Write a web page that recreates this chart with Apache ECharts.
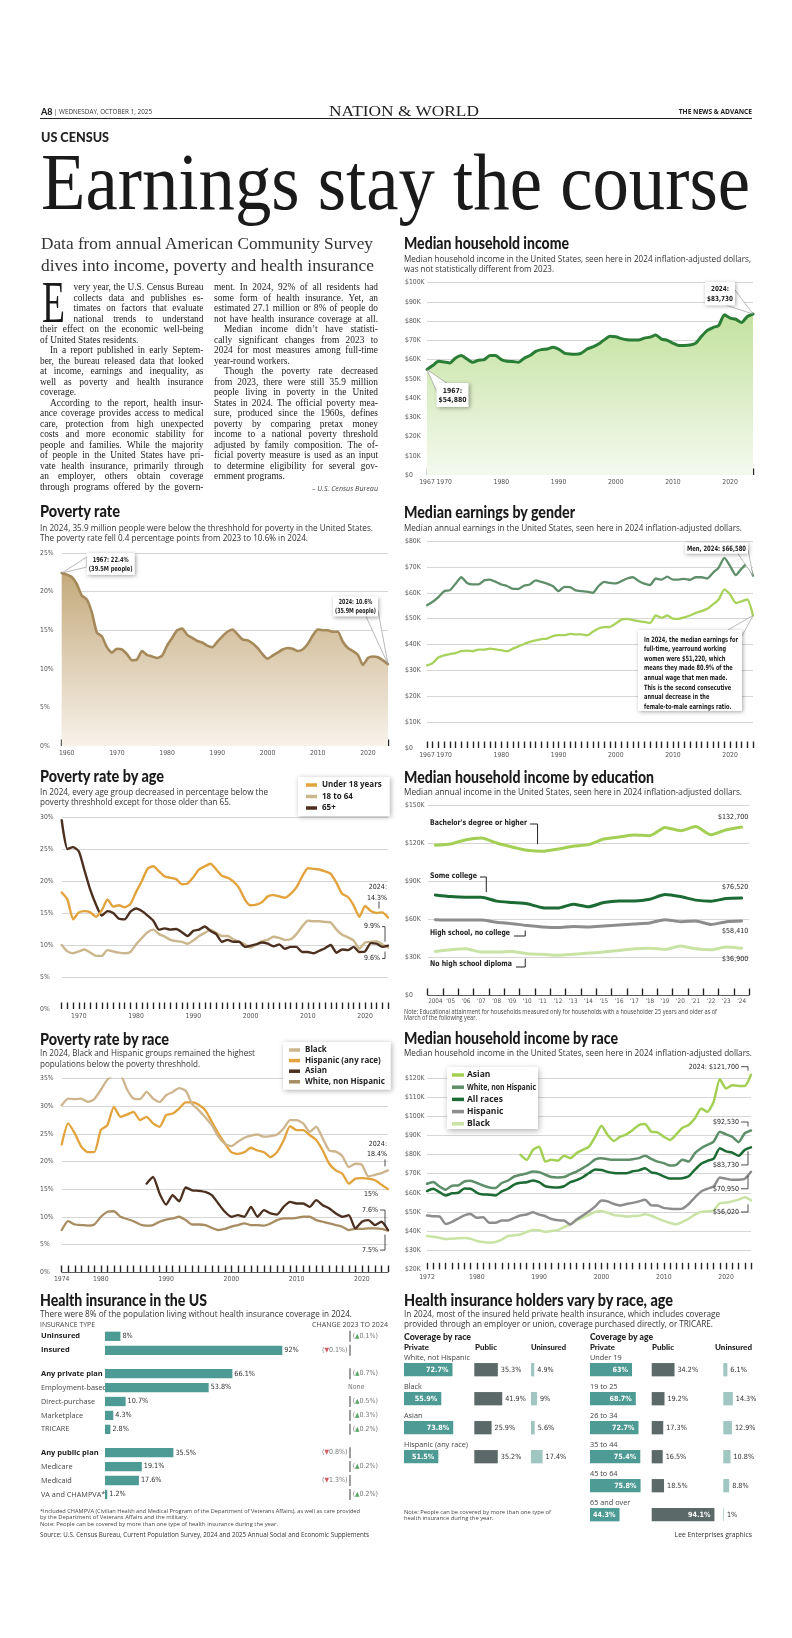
<!DOCTYPE html>
<html><head><meta charset="utf-8">
<script src="https://cdn.jsdelivr.net/npm/echarts@6.0.0/dist/echarts.min.js"></script>
<style>
html,body{margin:0;padding:0;background:#fff;}
#page{position:relative;width:792px;height:1638px;overflow:hidden;background:#fff;}
#chart{position:absolute;left:0;top:0;width:792px;height:1638px;}
#txt{position:absolute;left:0;top:0;width:792px;height:1638px;}
.t{position:absolute;white-space:nowrap;transform-origin:0 50%;color:#222;}
</style></head>
<body><div id="page"><div id="chart"></div><div id="txt"></div></div>
<script>
function range(a,b){const r=[];for(let y=a;y<=b;y++)r.push(y);return r;}

// ================= DATA =================
const incomeYears = range(1967, 2024);
const medianIncome = [54.88,56.9,59.1,58.8,58.3,60.9,62.1,60.3,58.6,59.7,60.0,62.2,62.1,60.0,59.1,59.0,58.6,60.7,62.1,64.3,65.2,65.5,66.4,65.5,63.4,62.9,62.8,63.4,65.5,66.6,68.1,70.3,72.1,71.9,70.9,70.3,70.2,70.2,71.2,71.7,72.8,70.7,70.0,68.6,67.4,67.4,67.6,68.6,72.1,75.2,76.7,77.8,83.3,81.6,81.0,79.3,82.4,83.73];

const povertyYears = range(1959, 2024);
const povertyRate = [22.4,22.2,21.9,21.0,19.5,19.0,17.3,14.7,14.2,12.8,12.1,12.6,12.5,11.9,11.1,11.2,12.3,11.8,11.6,11.4,11.7,13.0,14.0,15.0,15.2,14.4,14.0,13.6,13.4,13.0,12.8,13.5,14.2,14.8,15.1,14.5,13.8,13.7,13.3,12.7,11.9,11.3,11.7,12.1,12.5,12.7,12.6,12.3,12.5,13.2,14.3,15.1,15.0,15.0,14.8,14.8,13.5,12.7,12.3,11.8,10.5,11.4,11.6,11.5,11.1,10.6];

const earningsYears = range(1967, 2024);
const menEarnings = [55.2,56.5,58.3,60.6,61.0,63.5,66.0,63.8,63.2,63.2,64.8,65.1,64.2,63.2,62.6,61.5,61.5,62.8,63.2,64.8,64.2,63.5,62.6,60.6,62.3,62.2,60.9,60.6,60.4,60.0,62.6,64.2,63.8,63.6,64.5,65.5,66.0,64.5,63.5,63.0,65.5,65.1,66.2,65.1,65.1,65.4,65.0,66.0,66.0,65.5,67.7,69.7,73.5,70.3,66.8,69.3,71.2,66.58];
const womenEarnings = [31.9,32.8,35.0,35.8,36.3,36.7,37.4,37.6,37.4,38.0,38.0,38.4,38.1,37.8,37.4,38.4,39.3,40.2,41.0,41.6,42.1,42.3,43.2,43.6,43.6,44.1,43.9,43.9,43.5,44.9,46.2,46.7,46.8,48.1,49.6,49.9,49.4,49.0,48.7,48.3,51.2,50.3,51.2,50.0,49.9,50.5,51.2,52.2,52.9,53.8,55.5,57.4,61.3,59.3,56.1,56.7,57.4,51.22];

const ageYears = range(1967, 2024);
const under18 = [18.2,17.1,14.0,15.1,15.3,15.1,14.4,15.4,17.1,16.0,16.2,15.9,16.4,18.3,20.0,21.9,22.3,21.5,20.7,20.5,20.3,19.5,19.6,20.6,21.8,22.3,22.7,21.8,20.8,20.5,19.9,18.9,17.1,16.2,16.3,16.7,17.6,17.8,17.6,17.4,18.0,19.0,20.7,22.0,21.9,21.8,21.5,21.1,19.7,18.0,17.5,16.2,14.4,16.1,15.3,15.0,15.1,14.3];
const age18to64 = [10.0,9.0,8.7,9.0,9.3,8.8,8.3,8.3,9.2,9.0,8.8,8.7,8.9,10.1,11.1,12.0,12.4,11.7,11.3,10.8,10.6,10.5,10.2,10.7,11.4,11.9,12.4,11.9,11.4,11.4,10.9,10.5,10.1,9.6,10.1,10.6,10.8,11.3,11.1,10.8,10.9,11.7,12.9,13.8,13.7,13.7,13.6,13.5,12.4,11.6,11.2,10.7,9.4,10.4,10.5,10.6,10.1,9.6];
const age65plus = [29.5,25.0,25.3,24.6,21.6,18.6,16.3,14.6,15.3,15.0,14.1,14.0,15.2,15.7,15.3,14.6,13.8,12.4,12.6,12.4,12.5,12.0,11.4,12.2,12.4,12.9,12.2,11.7,10.5,10.8,10.5,10.5,9.7,9.9,10.1,10.4,10.2,9.8,10.1,9.4,9.7,9.7,8.9,8.9,8.7,9.1,9.5,10.0,8.8,9.3,9.2,9.7,8.9,9.0,10.3,10.2,9.7,9.9];

const eduYears = range(2004, 2024);
const eduLabels = eduYears.map((y,i)=> i===0 ? String(y) : "'" + String(y).slice(2));
const bachelors = [118.2,119.2,122.6,123.9,120.0,116.9,114.3,113.5,115.3,117.4,118.7,123.1,124.7,126.3,125.8,132.3,129.7,133.0,126.5,130.4,132.7];
const someCollege = [79.0,77.7,77.2,77.2,74.1,73.0,72.0,68.9,68.6,71.7,69.6,73.0,74.3,74.3,75.6,79.3,77.7,74.9,74.1,76.2,76.52];
const highSchool = [59.5,59.2,59.2,59.2,57.4,56.3,54.8,53.7,53.2,54.0,53.7,54.5,55.3,56.1,56.9,59.5,57.9,58.4,55.6,57.9,58.41];
const noDiploma = [34.4,35.7,36.5,33.9,33.9,34.4,32.6,32.1,31.3,32.1,33.1,33.9,35.2,36.5,37.0,36.0,38.6,36.5,35.7,37.8,36.9];

const racePovYears = range(1974, 2024);
const blackPov = [30.2,31.4,31.3,31.4,30.8,31.3,33.0,34.8,35.6,35.6,33.1,31.4,31.3,32.6,31.4,30.8,32.0,32.6,33.3,32.8,30.4,29.3,28.0,26.6,24.5,23.2,22.8,23.6,24.3,24.7,24.9,24.5,24.6,24.9,26.0,27.5,27.5,26.9,25.4,26.3,24.2,22.0,21.8,21.0,19.0,19.6,19.4,17.3,17.6,17.9,18.4];
const hispanicPov = [23.1,26.9,25.1,22.7,21.7,21.7,25.7,26.6,29.9,28.1,28.5,29.0,27.5,28.1,26.9,26.3,28.4,28.7,29.6,30.7,30.7,30.3,29.3,27.2,25.1,23.3,21.7,21.4,21.7,22.5,22.0,21.7,20.8,21.7,23.8,26.4,25.7,25.7,24.8,23.9,22.0,19.6,18.4,17.8,16.0,16.9,17.0,16.9,16.6,15.8,15.0];
const whitePov = [7.6,9.2,8.6,8.5,8.4,8.6,10.0,10.9,11.0,10.0,9.6,9.2,8.6,8.4,8.5,9.1,9.5,9.7,10.0,9.4,8.6,8.6,8.5,8.0,7.6,7.8,8.2,8.5,8.8,8.5,8.5,8.4,8.8,9.4,9.7,9.7,9.8,10.0,10.0,9.4,9.1,8.8,8.5,8.2,7.6,7.8,7.8,7.9,7.9,7.8,7.5];
const asianPovYears = range(1987, 2024);
const asianPov = [16.0,17.2,14.2,12.2,13.9,12.8,15.3,14.8,14.7,14.5,13.9,12.4,10.9,10.0,10.3,10.0,11.8,10.0,11.2,10.6,10.4,11.8,12.7,12.4,12.4,11.8,13.0,12.1,11.5,10.6,10.0,10.3,7.9,9.1,9.4,8.5,9.1,7.6];

const raceIncYears = range(1972, 2024);
const allRacesInc = medianIncome.slice(5);
const whiteInc = [64.7,65.6,63.3,61.6,63.7,63.8,65.9,66.3,65.1,63.8,62.8,62.5,65.1,66.4,68.5,69.4,70.1,71.1,70.8,69.4,68.2,68.0,68.2,69.7,71.1,72.9,74.9,77.5,78.1,77.5,77.2,77.2,77.2,77.5,78.1,79.4,77.7,76.3,75.5,74.2,74.6,77.2,76.3,80.7,83.3,85.0,86.7,91.9,90.5,89.3,86.4,91.1,92.53];
const hispanicInc = [48.1,47.7,47.6,43.7,44.8,46.5,48.2,48.9,46.9,47.2,44.3,44.3,45.5,45.5,46.9,48.1,48.6,49.8,48.6,47.7,46.3,45.6,45.5,43.4,46.0,48.1,50.3,52.9,55.9,55.5,54.1,53.4,54.1,54.7,55.5,56.4,53.4,53.3,52.1,51.7,51.5,51.7,54.1,57.6,60.7,62.1,63.3,68.0,67.3,66.8,66.8,67.3,70.95];
const blackInc = [37.4,37.0,36.5,35.8,36.0,36.2,36.4,36.0,34.8,34.3,34.0,34.3,35.5,37.4,37.8,38.2,39.5,40.6,40.4,39.5,40.0,40.5,42.0,43.5,45.5,47.0,48.5,50.0,50.5,49.5,48.3,48.0,47.6,47.8,48.0,48.8,48.0,46.6,45.3,44.2,43.5,44.8,46.4,48.6,50.0,50.3,50.7,54.6,54.8,55.5,56.4,57.6,56.02];
const asianIncYears = range(1987, 2024);
const asianInc = [79.8,77.2,82.4,84.1,76.3,77.2,76.7,79.4,78.1,80.7,82.4,84.1,89.3,95.0,90.2,87.1,89.3,90.5,92.8,95.4,95.9,91.9,91.6,89.3,87.6,90.5,94.0,95.4,98.9,104.1,102.3,107.5,119.3,114.5,116.2,115.8,115.8,121.7];
const raceIncNames = ['Asian','White, non Hispanic','All races','Hispanic','Black'];

const hiCats1 = ['Uninsured','Insured'];
const hiVals1 = [8, 92];
const hiChg1 = [0.1, -0.1];
const hiCats2 = ['Any private plan','Employment-based','Direct-purchase','Marketplace','TRICARE'];
const hiVals2 = [66.1, 53.8, 10.7, 4.3, 2.8];
const hiChg2 = [0.7, null, 0.5, 0.3, 0.2];
const hiCats3 = ['Any public plan','Medicare','Medicaid','VA and CHAMPVA*'];
const hiVals3 = [35.5, 19.1, 17.6, 1.2];
const hiChg3 = [-0.8, 0.2, -1.3, 0.2];

const raceGroups = ['White, not Hispanic','Black','Asian','Hispanic (any race)'];
const racePrivate = [72.7, 55.9, 73.8, 51.5];
const racePublic = [35.3, 41.9, 25.9, 35.2];
const raceUninsured = [4.9, 9, 5.6, 17.4];
const ageGroups = ['Under 19','19 to 25','26 to 34','35 to 44','45 to 64','65 and over'];
const agePrivate = [63, 68.7, 72.7, 75.4, 75.8, 44.3];
const agePublic = [34.2, 19.2, 17.3, 16.5, 18.5, 94.1];
const ageUninsured = [6.1, 14.3, 12.9, 10.8, 8.8, 1];

// ================= STYLE =================
const SANS='"Open Sans","Noto Sans","DejaVu Sans",sans-serif';
const HEAVY='Lato,Roboto,"Noto Sans",sans-serif';
const COND='"Liberation Sans Narrow","DejaVu Sans Condensed","Roboto Condensed",Roboto,sans-serif';
const SERIF='"Liberation Serif","DejaVu Serif",serif';
const TEAL='#4e9a94', SLATE='#5b6a68', LTEAL='#9fc6c1';
const C_ASIAN='#a4cf55', C_WHITE='#5f8f6a', C_ALL='#1c6b35', C_HISP='#8d8d8d', C_BLACK='#c9e3a5';

// ================= HTML TEXT =================
const TX=document.getElementById('txt');
function T(text,x,cy,o){
  o=o||{};
  const size=o.size||9, lh=size*1.2;
  const d=document.createElement('div');
  d.className='t'; d.textContent=text;
  d.style.fontFamily=o.font||SANS; d.style.fontSize=size+'px'; d.style.lineHeight=lh+'px';
  d.style.fontWeight=o.weight||400; if(o.italic) d.style.fontStyle='italic';
  d.style.color=o.color||'#222'; d.style.top=(cy-lh/2)+'px'; d.style.left='0px';
  TX.appendChild(d);
  const nat=d.getBoundingClientRect().width;
  let w=nat;
  if(o.w){ d.style.transform='scaleX('+(o.w/nat)+')'; w=o.w; }
  let left=x; if(o.align==='right') left=x-w; else if(o.align==='center') left=x-w/2;
  d.style.left=left+'px';
  return d;
}
function J(text,x,cy,w,last){
  const size=9.4, lh=size*1.2;
  const d=document.createElement('div');
  d.className='t'; d.textContent=text;
  d.style.fontFamily=SERIF; d.style.fontSize=size+'px'; d.style.lineHeight=lh+'px';
  d.style.top=(cy-lh/2)+'px'; d.style.left=x+'px';
  TX.appendChild(d);
  const nat=d.getBoundingClientRect().width;
  if(nat>w){ d.style.transform='scaleX('+(w/nat)+')'; }
  else if(!last){ d.style.whiteSpace='normal'; d.style.width=w+'px'; d.style.textAlign='justify'; d.style.textAlignLast='justify'; }
}
// masthead
T('A8',41,112,{size:9,weight:900,font:HEAVY});
T('|  WEDNESDAY, OCTOBER 1, 2025',54,112,{size:6.6,color:'#333',w:98});
T('NATION & WORLD',404,111,{size:15,font:SERIF,align:'center',w:150});
T('THE NEWS & ADVANCE',752,112,{size:6.6,weight:700,align:'right',color:'#222'});
(function(){const r=document.createElement('div');r.style.cssText='position:absolute;left:40px;top:118px;width:712px;height:1px;background:#222;';TX.appendChild(r);})();
T('US CENSUS',41,137,{size:14,weight:900,font:HEAVY,w:68});
T('Earnings stay the course',41,182,{size:80,font:SERIF,w:709,color:'#1a1a1a'});
T('Data from annual American Community Survey',41,243,{size:17.5,font:SERIF,w:332,color:'#333'});
T('dives into income, poverty and health insurance',41,265,{size:17.5,font:SERIF,w:333,color:'#333'});
// body
T('E',42,302.5,{size:59,font:SERIF,w:23,color:'#1a1a1a'});
const col1=[['very year, the U.S. Census Bureau',73.5,0],['collects data and publishes es-',73.5,0],['timates on factors that evaluate',73.5,0],['national trends to understand',73.5,0],['their effect on the economic well-being',40,0],['of United States residents.',40,1],['In a report published in early Septem-',50,0],['ber, the bureau released data that looked',40,0],['at income, earnings and inequality, as',40,0],['well as poverty and health insurance',40,0],['coverage.',40,1],['According to the report, health insur-',50,0],['ance coverage provides access to medical',40,0],['care, protection from high unexpected',40,0],['costs and more economic stability for',40,0],['people and families. While the majority',40,0],['of people in the United States have pri-',40,0],['vate health insurance, primarily through',40,0],['an employer, others obtain coverage',40,0],['through programs offered by the govern-',40,0]];
const col2=[['ment. In 2024, 92% of all residents had',214,0],['some form of health insurance. Yet, an',214,0],['estimated 27.1 million or 8% of people do',214,0],['not have health insurance coverage at all.',214,0],['Median income didn\u2019t have statisti-',224,0],['cally significant changes from 2023 to',214,0],['2024 for most measures among full-time',214,0],['year-round workers.',214,1],['Though the poverty rate decreased',224,0],['from 2023, there were still 35.9 million',214,0],['people living in poverty in the United',214,0],['States in 2024. The official poverty mea-',214,0],['sure, produced since the 1960s, defines',214,0],['poverty by comparing pretax money',214,0],['income to a national poverty threshold',214,0],['adjusted by family composition. The of-',214,0],['ficial poverty measure is used as an input',214,0],['to determine eligibility for several gov-',214,0],['ernment programs.',214,1]];
col1.forEach((l,i)=>J(l[0],l[1],287.7+i*10.5,203.5-l[1],l[2]));
col2.forEach((l,i)=>J(l[0],l[1],287.7+i*10.5,378-l[1],l[2]));
T('\u2013 U.S. Census Bureau',378,488,{size:8,italic:true,align:'right',color:'#444',w:66});

// titles & subtitles
const TT=(s,x,y,w)=>T(s,x,y,{size:16,weight:900,font:HEAVY,w,color:'#1a1a1a'});
const ST=(s,x,y,w)=>T(s,x,y,{size:9.3,w,color:'#333'});
TT('Median household income',404,242.7,165);
ST('Median household income in the United States, seen here in 2024 inflation-adjusted dollars,',404,259,347);
ST('was not statistically different from 2023.',404,268.5,150);
TT('Poverty rate',40,511,80);
ST('In 2024, 35.9 million people were below the threshhold for poverty in the United States.',40,527.3,333);
ST('The poverty rate fell 0.4 percentage points from 2023 to 10.6% in 2024.',40,537.3,268);
TT('Median earnings by gender',404,511.3,171);
ST('Median annual earnings in the United States, seen here in 2024 inflation-adjusted dollars.',404,527.3,338);
TT('Poverty rate by age',40,776,124);
ST('In 2024, every age group decreased in percentage below the',40,791.7,228);
ST('poverty threshhold except for those older than 65.',40,801.2,191);
TT('Median household income by education',404,777,250);
ST('Median annual income in the United States, seen here in 2024 inflation-adjusted dollars.',404,792,338);
T('Note: Educational attainment for households measured only for households with a householder 25 years and older as of',404,1011.3,{size:6.2,w:313,color:'#444'});
T('March of the following year.',404,1018,{size:6.2,w:73,color:'#444'});
TT('Poverty rate by race',40,1039,129);
ST('In 2024, Black and Hispanic groups remained the highest',40,1053,215);
ST('populations below the poverty threshhold.',40,1063.7,160);
TT('Median household income by race',404,1038,214);
ST('Median household income in the United States, seen here in 2024 inflation-adjusted dollars.',404,1053,348);
TT('Health insurance in the US',40,1300,167);
ST('There were 8% of the population living without health insurance coverage in 2024.',40,1313.7,312);
T('INSURANCE TYPE',40,1325.3,{size:6.8,color:'#444',w:55});
T('CHANGE 2023 TO 2024',388,1325.3,{size:6.8,color:'#444',align:'right',w:76});
TT('Health insurance holders vary by race, age',404,1300,269);
ST('In 2024, most of the insured held private health insurance, which includes coverage',404,1314,316);
ST('provided through an employer or union, coverage purchased directly, or TRICARE.',404,1323.5,309);
T('Coverage by race',404,1337.3,{size:8.5,weight:900,font:HEAVY,w:67});
T('Coverage by age',590,1337.3,{size:8.5,weight:900,font:HEAVY,w:63});
const HD=(s,x,w,al)=>T(s,x,1347.7,{size:7.5,weight:900,font:HEAVY,w,align:al||'left'});
HD('Private',404,25);HD('Public',474.5,22);HD('Uninsured',531,35);
HD('Private',590,25);HD('Public',652,22);HD('Uninsured',752,37,'right');
T('*Included CHAMPVA (Civilian Health and Medical Program of the Department of Veterans Affairs), as well as care provided',40,1511,{size:5.8,color:'#444',w:320});
T('by the Department of Veterans Affairs and the military.',40,1517.5,{size:5.8,color:'#444'});
T('Note: People can be covered by more than one type of health insurance during the year.',40,1524,{size:5.8,color:'#444'});
T('Source: U.S. Census Bureau, Current Population Survey, 2024 and 2025 Annual Social and Economic Supplements',40,1535.5,{size:6.8,color:'#333',w:329});
T('Note: People can be covered by more than one type of',404,1512,{size:5.8,color:'#444'});
T('health insurance during the year.',404,1518.5,{size:5.8,color:'#444'});
T('Lee Enterprises graphics',752,1535.5,{size:6.8,color:'#333',align:'right'});

// ================= CHARTS =================
const grids=[], xAxes=[], yAxes=[], series=[], legends=[];
function ts(c){
  const gi=grids.length;
  grids.push({left:c.left,top:c.top,width:c.width,height:c.height});
  xAxes.push({gridIndex:gi,type:'value',min:c.xmin,max:c.xmax,interval:1,
    axisLine:{show:!!c.axisLine,onZero:false,lineStyle:{color:'#333',width:0.8}},
    axisTick:{show:true,inside:true,length:6.5,lineStyle:{color:'#222',width:1.35}},
    axisLabel:{formatter:c.xfmt,fontFamily:COND,fontSize:6.8,color:'#555',margin:4,hideOverlap:false,showMinLabel:true,showMaxLabel:true},
    splitLine:{show:false}});
  yAxes.push({gridIndex:gi,type:'value',min:c.ymin,max:c.ymax,interval:c.yint,
    axisLine:{show:false},axisTick:{show:false},
    axisLabel:{formatter:c.yfmt,align:'left',margin:c.left-c.ylx,fontFamily:COND,fontSize:6.8,color:'#555',showMaxLabel:!c.hideMax},
    splitLine:{show:true,showMinLine:false,showMaxLine:!c.hideMax,lineStyle:{color:'#cccccc',width:0.8}}});
  return gi;
}
function addLine(gi,name,xs,ys,color,width,extra){
  series.push(Object.assign({type:'line',name,xAxisIndex:gi,yAxisIndex:gi,data:xs.map((x,i)=>[x,ys[i]]),symbol:'none',showSymbol:false,smooth:0.2,
    lineStyle:{color,width,join:'round',cap:'round'},itemStyle:{color},silent:true,z:3},extra||{}));
}
const fK=v=>v===0?'$0':'$'+v+'K';
const fP=v=>v+'%';
const grad=(a,b)=>({type:'linear',x:0,y:0,x2:0,y2:1,colorStops:[{offset:0,color:a},{offset:1,color:b}]});

// A: median household income
const gA=ts({left:427,top:282.7,width:326,height:192.3,xmin:1967,xmax:2024,ymin:0,ymax:100,yint:10,yfmt:fK,xfmt:v=>(v===1967||v%10===0)?String(v):'',ylx:405});
addLine(gA,'Median income',incomeYears,medianIncome,'#2a7d34',3,{areaStyle:{color:grad('#c3e29f','#f4f9ee'),opacity:1}});
// B: poverty rate
const gB=ts({left:61.7,top:553,width:326.3,height:193,xmin:1959,xmax:2024,ymin:0,ymax:25,yint:5,yfmt:fP,xfmt:v=>v%10===0?String(v):'',ylx:40});
addLine(gB,'Poverty rate',povertyYears,povertyRate,'#a5895a',2.6,{areaStyle:{color:grad('#c4aa7c','#f7f2ea'),opacity:1}});
// C: earnings by gender
const gC=ts({left:427,top:541,width:326,height:207,xmin:1967,xmax:2024,ymin:0,ymax:80,yint:10,yfmt:fK,xfmt:v=>(v===1967||v%10===0)?String(v):'',ylx:405});
addLine(gC,'Men',earningsYears,menEarnings,'#5f8f6a',2.3);
addLine(gC,'Women',earningsYears,womenEarnings,'#a8d25c',2.3);
// D: poverty by age
const gD=ts({left:61.7,top:817,width:326.3,height:192,xmin:1967,xmax:2024,ymin:0,ymax:30,yint:5,yfmt:fP,xfmt:v=>v%10===0?String(v):'',ylx:40});
addLine(gD,'18 to 64',ageYears,age18to64,'#cbb78e',2.4);
addLine(gD,'65+',ageYears,age65plus,'#4b2f1f',2.4);
addLine(gD,'Under 18 years',ageYears,under18,'#e2a33c',2.4);
legends.push({data:['Under 18 years','18 to 64','65+'],left:298,top:777,orient:'vertical',icon:'rect',itemWidth:11,itemHeight:3.5,itemGap:1.5,padding:[3,8,3,8],
  backgroundColor:'#fff',shadowBlur:5,shadowColor:'rgba(0,0,0,0.3)',shadowOffsetX:1,shadowOffsetY:1,selectedMode:false,
  textStyle:{fontFamily:SANS,fontWeight:'bold',fontSize:8,color:'#222',lineHeight:10}});
// E: income by education (category axis)
const gE=grids.length;
grids.push({left:427.7,top:805,width:321.6,height:190});
xAxes.push({gridIndex:gE,type:'category',data:eduLabels,boundaryGap:true,
  axisLine:{show:true,lineStyle:{color:'#333',width:0.8}},
  axisTick:{show:true,inside:true,length:6.5,interval:0,lineStyle:{color:'#222',width:1.35}},
  axisLabel:{interval:0,fontFamily:COND,fontSize:6.3,color:'#555',margin:3}});
yAxes.push({gridIndex:gE,type:'value',min:0,max:150,interval:30,axisLine:{show:false},axisTick:{show:false},
  axisLabel:{formatter:fK,align:'left',margin:427.7-405,fontFamily:COND,fontSize:6.8,color:'#555'},
  splitLine:{show:true,showMinLine:false,lineStyle:{color:'#cccccc',width:0.8}}});
const eduIdx=eduYears.map((_,i)=>i);
addLine(gE,"Bachelor's degree or higher",eduIdx,bachelors,'#a4cf55',3);
addLine(gE,'Some college',eduIdx,someCollege,'#1c6b35',3);
addLine(gE,'High school, no college',eduIdx,highSchool,'#8d8d8d',3);
addLine(gE,'No high school diploma',eduIdx,noDiploma,'#c9e3a5',3);
// F: income by race
const gF=ts({left:427,top:1070.3,width:324,height:199,xmin:1972,xmax:2024,ymin:20,ymax:124,yint:10,yfmt:fK,xfmt:v=>(v===1972||v%10===0)?String(v):'',ylx:405,hideMax:true});
addLine(gF,'Black (income)',raceIncYears,blackInc,C_BLACK,2.5);
addLine(gF,'Hispanic (income)',raceIncYears,hispanicInc,C_HISP,2.5);
addLine(gF,'All races (income)',raceIncYears,allRacesInc,C_ALL,2.5);
addLine(gF,'White (income)',raceIncYears,whiteInc,C_WHITE,2.5);
addLine(gF,'Asian (income)',asianIncYears,asianInc,C_ASIAN,2.5);
// G: poverty by race
const gG=ts({left:61.7,top:1078.7,width:326.3,height:193.3,xmin:1974,xmax:2024,ymin:0,ymax:35,yint:5,yfmt:fP,xfmt:v=>(v===1974||v%10===0)?String(v):'',ylx:40,axisLine:true});
addLine(gG,'White, non Hispanic',racePovYears,whitePov,'#a88d62',2.3);
addLine(gG,'Asian',asianPovYears,asianPov,'#4b2f1f',2.3);
addLine(gG,'Hispanic (any race)',racePovYears,hispanicPov,'#e2a33c',2.3);
addLine(gG,'Black',racePovYears,blackPov,'#cdb58d',2.3);
legends.push({data:['Black','Hispanic (any race)','Asian','White, non Hispanic'],left:283,top:1042,orient:'vertical',icon:'rect',itemWidth:11,itemHeight:3.5,itemGap:0.6,padding:[3,6,3,6],
  backgroundColor:'#fff',shadowBlur:5,shadowColor:'rgba(0,0,0,0.3)',shadowOffsetX:1,shadowOffsetY:1,selectedMode:false,
  textStyle:{fontFamily:SANS,fontWeight:'bold',fontSize:8,color:'#222',lineHeight:10}});

// H: health insurance in the US
const BOLD=new Set(['Uninsured','Insured','Any private plan','Any public plan']);
function hiGroup(cats,vals,chgs,top,h){
  const g=grids.length;
  grids.push({left:105,top,width:192.7,height:h});
  xAxes.push({gridIndex:g,type:'value',min:0,max:100,show:false});
  yAxes.push({gridIndex:g,type:'category',data:cats,inverse:true,axisLine:{show:false},axisTick:{show:false},
    axisLabel:{margin:64,align:'left',fontFamily:SANS,fontSize:7.3,color:'#444',formatter:v=>BOLD.has(v)?'{b|'+v+'}':v,
      rich:{b:{fontWeight:'bold',fontFamily:SANS,fontSize:7.5,color:'#1a1a1a'}}}});
  series.push({type:'bar',xAxisIndex:g,yAxisIndex:g,data:vals,barWidth:9.3,itemStyle:{color:TEAL},silent:true,
    label:{show:true,position:'right',distance:2,formatter:p=>p.value+'%',fontFamily:COND,fontSize:7.2,color:'#333'}});
  const c=grids.length;
  grids.push({left:310,top,width:80,height:h});
  xAxes.push({gridIndex:c,type:'value',min:-1,max:1,show:false});
  yAxes.push({gridIndex:c,type:'category',data:cats,inverse:true,show:false});
  series.push({type:'scatter',xAxisIndex:c,yAxisIndex:c,silent:true,symbol:'rect',symbolSize:[1.3,11],itemStyle:{color:'#444'},
    label:{show:true,fontFamily:COND,fontSize:7,color:'#555',rich:{u:{color:'#2e8b3e',fontSize:6.5},d:{color:'#c8303f',fontSize:6.5}}},
    data:chgs.map((v,i)=>{
      if(v===null) return {value:[0,i],symbolSize:0.01,label:{position:'right',distance:-2,formatter:'None'}};
      if(v>0) return {value:[0,i],label:{position:'right',distance:2,formatter:'({u|\u25B2}'+v+'%)'}};
      return {value:[0,i],label:{position:'left',distance:2,formatter:'({d|\u25BC}'+Math.abs(v)+'%)'}};
    })});
}
hiGroup(hiCats1,hiVals1,hiChg1,1329.3,28);
hiGroup(hiCats2,hiVals2,hiChg2,1366.7,69.6);
hiGroup(hiCats3,hiVals3,hiChg3,1445.7,55.7);

// I: coverage by race / age
function cov(left,top,h,cats,vals,color,kind,showCats){
  const g=grids.length;
  grids.push({left,top,width:66.7,height:h});
  xAxes.push({gridIndex:g,type:'value',min:0,max:100,show:false});
  yAxes.push({gridIndex:g,type:'category',data:cats,inverse:true,axisLine:{show:false},axisTick:{show:false},
    axisLabel:showCats?{show:true,inside:true,margin:0,align:'left',verticalAlign:'bottom',padding:[0,0,8,0],fontFamily:SANS,fontSize:7.3,color:'#444'}:{show:false}});
  const inside={position:'insideRight',distance:4,color:'#fff',fontWeight:'bold'};
  series.push({type:'bar',xAxisIndex:g,yAxisIndex:g,barWidth:13.3,itemStyle:{color},silent:true,
    data:vals.map(v=>(kind==='private'||v>60)?{value:v,label:inside}:v),
    label:{show:true,position:'right',distance:3,formatter:p=>p.value+'%',fontFamily:COND,fontSize:7.2,color:'#333'}});
}
cov(404,1355.2,116,raceGroups,racePrivate,TEAL,'private',true);
cov(474.3,1355.2,116,raceGroups,racePublic,SLATE,'public',false);
cov(531,1355.2,116,raceGroups,raceUninsured,LTEAL,'unins',false);
cov(590,1355.2,174,ageGroups,agePrivate,TEAL,'private',true);
cov(651.7,1355.2,174,ageGroups,agePublic,SLATE,'public',false);
cov(723.3,1355.2,174,ageGroups,ageUninsured,LTEAL,'unins',false);

const chart=echarts.init(document.getElementById('chart'),null,{renderer:'canvas'});
chart.setOption({animation:false,textStyle:{fontFamily:COND},grid:grids,xAxis:xAxes,yAxis:yAxes,series,legend:legends});

// ================= ANNOTATIONS =================
const G=[];
const P=(gi,x,y)=>chart.convertToPixel({gridIndex:gi},[x,y]);
const mctx=document.createElement('canvas').getContext('2d');
function mw(t,f){mctx.font=f;return mctx.measureText(t).width;}
const CF=(s,w)=>(w||'bold')+' '+s+'px '+COND;
function gtext(x,y,text,o){
  o=o||{};
  const font=o.font||CF(7);
  const w=Math.max(...String(text).split('\n').map(l=>mw(l,font)));
  let sx=1;
  if(o.fitW) sx=o.fitW/w; else if(o.maxW && w>o.maxW) sx=o.maxW/w;
  G.push({type:'text',z:120,silent:true,x,y,scaleX:sx,style:{text,x:0,y:0,font,fill:o.color||'#222',
    align:o.align||'left',verticalAlign:o.va||'middle',textAlign:o.align||'left',textVerticalAlign:o.va||'middle',lineHeight:o.lh}});
  return w*sx;
}
function seg(points,o){G.push({type:'polyline',z:115,silent:true,shape:{points},style:{stroke:(o&&o.c)||'#222',lineWidth:(o&&o.w)||0.8,fill:null}});}
function callout(b,tail,text,o){
  o=o||{};
  G.push({type:'polygon',z:110,silent:true,shape:{points:tail},style:{fill:'#fff',stroke:'#8a8a8a',lineWidth:0.6}});
  G.push({type:'rect',z:111,silent:true,shape:{x:b.x,y:b.y,width:b.w,height:b.h},style:{fill:'#fff',shadowBlur:4,shadowColor:'rgba(0,0,0,0.35)',shadowOffsetX:1,shadowOffsetY:1}});
  const font=o.font||CF(7);
  if(o.left) gtext(b.x+6,b.y+5,text,{font,align:'left',va:'top',lh:o.lh,maxW:b.w-10});
  else gtext(b.x+b.w/2,b.y+b.h/2+0.5,text,{font,align:'center',va:'middle',lh:o.lh,maxW:b.w-4});
}
function endLabel(p,text,dy,o){
  o=o||{};
  const gap=o.gap==null?10:o.gap, ly=p[1]+dy;
  gtext(p[0]-gap,ly,text,{align:'right',font:o.font||CF(7,'normal'),lh:o.lh});
  if(o.bracket!==false){
    const bx=p[0]-(o.bx==null?3:o.bx);
    const ey=dy<0?p[1]-4:p[1]+4;
    seg([[p[0]-gap+2,ly],[bx,ly],[bx,ey]]);
  }
}
// A
{ const p=P(gA,incomeYears[0],medianIncome[0]); const b={x:p[0]+9.5,y:p[1]+13.5,w:32,h:24};
  callout(b,[p,[b.x,b.y+8],[b.x+10,b.y]],'1967:\n$54,880',{lh:9.5});
  const q=P(gA,incomeYears[57],medianIncome[57]); const c={x:q[0]-48,y:q[1]-32,w:30,h:23.5};
  callout(c,[q,[c.x+c.w,c.y+8],[c.x+c.w-8,c.y+c.h]],'2024:\n$83,730',{lh:9.5}); }
// B
{ const p=P(gB,povertyYears[0],povertyRate[0]); const b={x:p[0]+25,y:p[1]-20,w:48,h:22};
  callout(b,[p,[b.x,b.y+4],[b.x,b.y+14]],'1967: 22.4%\n(39.5M people)',{lh:9.5});
  const q=P(gB,2024,povertyRate[65]); const c={x:q[0]-55,y:q[1]-67.6,w:45,h:20};
  callout(c,[q,[c.x+c.w-12,c.y+c.h],[c.x+c.w,c.y+c.h-6]],'2024: 10.6%\n(35.9M people)',{lh:9}); }
// C
{ const p=P(gC,2024,menEarnings[57]); const b={x:p[0]-68,y:p[1]-33,w:63,h:11};
  callout(b,[p,[b.x+b.w-10,b.y+b.h],[b.x+b.w,b.y+b.h-4]],'Men, 2024: $66,580',{font:CF(7.3)});
  const q=P(gC,2024,womenEarnings[57]); const c={x:q[0]-115,y:q[1]+14.5,w:104,h:81};
  callout(c,[q,[c.x+c.w-14,c.y],[c.x+c.w,c.y+6]],'In 2024, the median earnings for\nfull-time, yearround working\nwomen were $51,220, which\nmeans they made 80.9% of the\nannual wage that men made.\nThis is the second consecutive\nannual decrease in the\nfemale-to-male earnings ratio.',{left:true,lh:9.6,font:CF(7.3)}); }
// D
{ const p=P(gD,2024,under18[57]);
  gtext(p[0]-1,p[1]-25,'2024:\n14.3%',{align:'right',font:CF(7,'normal'),lh:10.5});
  seg([[p[0]-9,p[1]-16],[p[0]-9,p[1]-9]]);
  endLabel(P(gD,2024,age65plus[57]),'9.9%',-19,{gap:8});
  endLabel(P(gD,2024,age18to64[57]),'9.6%',11,{gap:8}); }
// E
{ const ends=[[bachelors,'$132,700',-10],[someCollege,'$76,520',-10.6],[highSchool,'$58,410',10.4],[noDiploma,'$36,900',11]];
  ends.forEach(e=>{const p=P(gE,20,e[0][20]); gtext(p[0]+6.5,p[1]+e[2],e[1],{align:'right',font:CF(7,'normal')});});
  const LF=CF(7.8);
  let p=P(gE,7,bachelors[7]); let w=gtext(430,823,"Bachelor's degree or higher",{font:LF,fitW:97});
  seg([[430+w+3,824],[p[0]-5,824],[p[0]-5,p[1]-7]],{w:1});
  p=P(gE,3,someCollege[3]); w=gtext(430,876,'Some college',{font:LF,fitW:47});
  seg([[430+w+3,877],[p[0]+5,877],[p[0]+5,p[1]-5]],{w:1});
  p=P(gE,6,highSchool[6]); w=gtext(430,933,'High school, no college',{font:LF,fitW:80});
  seg([[430+w+4,936],[p[0]-2,936],[p[0]-2,p[1]+5]],{w:1});
  p=P(gE,6,noDiploma[6]); w=gtext(430,964,'No high school diploma',{font:LF,fitW:82});
  seg([[430+w+4,967],[p[0]-2,967],[p[0]-2,p[1]+5]],{w:1}); }
// F end labels
{ const L=[[asianIncYears,asianInc,'2024: $121,700',-8],[raceIncYears,whiteInc,'$92,530',-8.5],[raceIncYears,allRacesInc,'$83,730',17.6],[raceIncYears,hispanicInc,'$70,950',17],[raceIncYears,blackInc,'$56,020',11.6]];
  L.forEach(l=>{const n=l[1].length-1; endLabel(P(gF,l[0][n],l[1][n]),l[2],l[3],{gap:12,bx:3});}); }
// F legend (compact box, colours shared with the series)
{ const b={x:447,y:1067,w:91,h:62};
  G.push({type:'rect',z:111,silent:true,shape:{x:b.x,y:b.y,width:b.w,height:b.h},style:{fill:'#fff',shadowBlur:6,shadowColor:'rgba(0,0,0,0.3)',shadowOffsetX:1,shadowOffsetY:2}});
  const cols=[C_ASIAN,C_WHITE,C_ALL,C_HISP,C_BLACK];
  raceIncNames.forEach((n,i)=>{
    const y=1075+i*12.2;
    G.push({type:'rect',z:112,silent:true,shape:{x:452,y:y-1.75,width:12,height:3.5},style:{fill:cols[i]}});
    gtext(467,y,n,{font:'bold 8.5px '+SANS,maxW:69});
  }); }
// G
{ const p=P(gG,2024,blackPov[50]);
  gtext(p[0]-1,p[1]-21,'2024:\n18.4%',{align:'right',font:CF(7,'normal'),lh:9.5});
  seg([[p[0]-3,p[1]-11],[p[0]-3,p[1]-4]]);
  endLabel(P(gG,2024,hispanicPov[50]),'15%',5,{gap:10,bracket:false});
  endLabel(P(gG,2024,asianPov[37]),'7.6%',-20,{gap:10});
  endLabel(P(gG,2024,whitePov[50]),'7.5%',19.5,{gap:10}); }

chart.setOption({graphic:{elements:G}});
</script></body></html>
